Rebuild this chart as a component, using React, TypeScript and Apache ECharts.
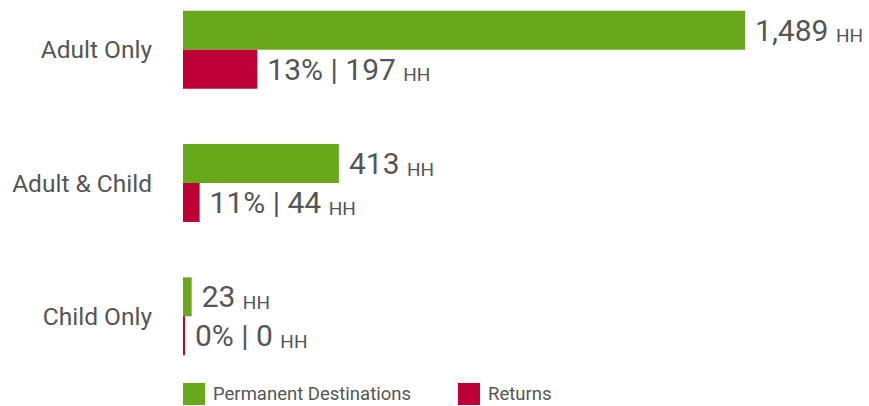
import React, { useEffect, useRef } from "react";
import * as echarts from "echarts";

const categories = ["Adult Only", "Adult & Child", "Child Only"];
const permanentValues = [1489, 413, 23];
const returnValues = [197, 44, 0];
const returnPct = [13, 11, 0];
const seriesNames = ["Permanent Destinations", "Returns"];
const unitLabel = "HH";

const GREEN = "#6aa81b";
const RED = "#be0036";
const TEXT = "#555555";

const fmt = (n: number) => n.toLocaleString("en-US");

export default function App() {
  const ref = useRef<HTMLDivElement>(null);
  useEffect(() => {
    if (!ref.current) return;
    const chart = echarts.init(ref.current, undefined, { renderer: "svg" });
    const rich = {
      v: { fontSize: 30, color: TEXT, fontFamily: "Roboto", verticalAlign: "bottom", lineHeight: 30 },
      u: { fontSize: 19, color: TEXT, fontFamily: "Roboto", verticalAlign: "bottom", lineHeight: 25 },
    };
    chart.setOption({
      animation: false,
      textStyle: { fontFamily: "Roboto" },
      grid: {
        left: 183,
        width: 604,
        top: -17,
        height: 400,
        containLabel: false,
        outerBoundsMode: "none",
      },
      legend: {
        data: seriesNames,
        left: 183,
        top: 383,
        padding: 0,
        itemWidth: 22,
        itemHeight: 22,
        itemGap: 47,
        icon: "rect",
        textStyle: { fontSize: 18.5, color: TEXT, fontFamily: "Roboto", padding: [0, 0, 0, 3] },
      },
      xAxis: {
        type: "value",
        min: 0,
        max: 1600,
        show: false,
        splitLine: { show: false },
      },
      yAxis: {
        type: "category",
        data: categories,
        inverse: true,
        axisLine: { show: false },
        axisTick: { show: false },
        axisLabel: { fontSize: 24.5, color: TEXT, fontFamily: "Roboto", margin: 31 },
      },
      series: [
        {
          name: seriesNames[0],
          type: "bar",
          data: permanentValues,
          barWidth: 39,
          barGap: "0%",
          barCategoryGap: "42%",
          itemStyle: { color: GREEN },
          label: {
            show: true,
            position: "right",
            distance: 10,
            formatter: (p: any) => `{v|${fmt(p.value)} }{u|${unitLabel}}`,
            rich,
          },
        },
        {
          name: seriesNames[1],
          type: "bar",
          data: returnValues,
          barWidth: 39,
          barGap: "0%",
          barMinHeight: 2,
          itemStyle: { color: RED },
          label: {
            show: true,
            position: "right",
            distance: 10,
            formatter: (p: any) =>
              `{v|${returnPct[p.dataIndex]}% | ${fmt(p.value)} }{u|${unitLabel}}`,
            rich,
          },
        },
      ],
    });
    return () => chart.dispose();
  }, []);
  return (
    <div
      ref={ref}
      style={{ position: "fixed", left: 0, top: 0, width: 869, height: 406, background: "#fff" }}
    />
  );
}
